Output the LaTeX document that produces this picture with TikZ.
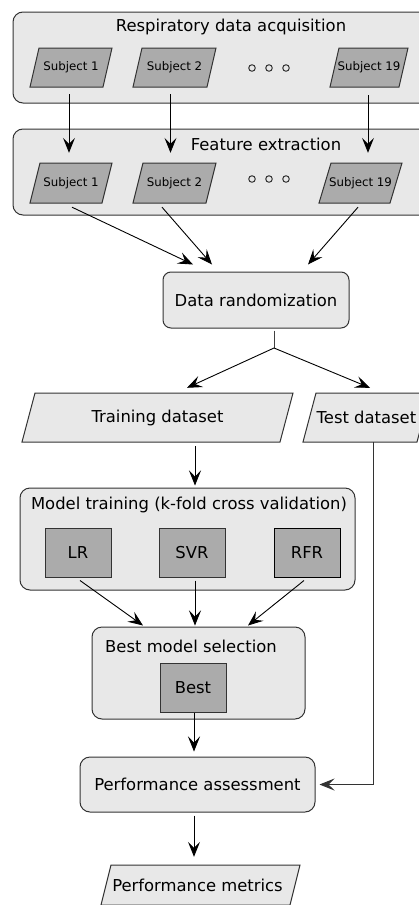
\documentclass[tikz,border=0pt]{standalone}
\usepackage{fontspec}
\setmainfont{DejaVu Sans}
\usetikzlibrary{arrows.meta,calc}
\definecolor{lightfill}{HTML}{E8E8E8}
\definecolor{darkfill}{HTML}{ABABAB}
\definecolor{edgecol}{HTML}{333333}
\newcommand{\paranode}[8]{%
  \draw[#7] ({#2-#4/2},{#3+#5/2}) -- ({#2+#4/2-#6},{#3+#5/2}) -- ({#2+#4/2},{#3-#5/2}) -- ({#2-#4/2+#6},{#3-#5/2}) -- cycle;
  \node[inner sep=0pt, minimum width={#4-#6}, minimum height=#5] (#1) at (#2,#3) {#8};}
\begin{document}
\begin{tikzpicture}[x=1pt,y=-1pt,
  every node/.style={font=\fontsize{16.4}{19}\selectfont, text=black},
  container/.style={draw=edgecol, fill=lightfill, line width=1pt, rounded corners=10pt, inner sep=0pt},
  lightpara/.style={draw=edgecol, fill=lightfill, line width=1pt},
  darkpara/.style={draw=edgecol, fill=darkfill, line width=1pt},
  darkbox/.style={draw=edgecol, fill=darkfill, line width=1pt, inner sep=0pt, minimum width=66pt, minimum height=49pt},
  title/.style={inner sep=0pt},
  arr/.style={line width=0.9pt, -{Stealth[length=15pt,width=12pt,inset=6pt]}},
  plain/.style={line width=0.9pt, draw=black!75},
  dot/.style={draw=edgecol, line width=1pt, fill=lightfill, circle, inner sep=0pt, minimum size=6.5pt}]
\useasboundingbox (0,0) rectangle (419,905);
\clip (0,0) rectangle (419,905);
\fill[white] (0,0) rectangle (419,905);

% Respiratory data acquisition
\node[container, minimum width=437pt, minimum height=91pt] (acq) at (231.5,57.5) {};
\node[title] (acqt) at (231,27) {Respiratory data acquisition};
\paranode{a1}{71}{67.5}{82}{39}{9}{darkpara}{\fontsize{11.8}{14}\selectfont Subject 1}
\paranode{a2}{174.5}{67.5}{83}{39}{9}{darkpara}{\fontsize{11.8}{14}\selectfont Subject 2}
\paranode{a19}{369}{67.5}{78}{39}{9}{darkpara}{\fontsize{11.8}{14}\selectfont Subject 19}
\node[dot] (ad1) at (252,68) {};
\node[dot] (ad2) at (269,68) {};
\node[dot] (ad3) at (286,68) {};

% Feature extraction
\node[container, minimum width=437pt, minimum height=86pt] (fe) at (231.5,172) {};
\node[title] (fet) at (266,144) {Feature extraction};
\paranode{b1}{71}{183}{82}{40}{10}{darkpara}{\fontsize{11.8}{14}\selectfont Subject 1}
\paranode{b2}{174.5}{183}{83}{40}{10}{darkpara}{\fontsize{11.8}{14}\selectfont Subject 2}
\paranode{b19}{360.5}{183}{83}{40}{12}{darkpara}{\fontsize{11.8}{14}\selectfont Subject 19}
\node[dot] (bd1) at (252,179) {};
\node[dot] (bd2) at (269,179) {};
\node[dot] (bd3) at (286,179) {};

\draw[arr] ($(a1.south)+(-2,7)$) -- ($(b1.north)+(-2,-10)$);
\draw[arr] ($(a2.south)+(-4,7)$) -- ($(b2.north)+(-4,-10)$);
\draw[arr] ($(a19.south)+(-1,8)$) -- ($(b19.north)+(7.5,-10)$);

% Data randomization
\node[container, rounded corners=8pt, minimum width=186pt, minimum height=56pt] (dr) at (256,300) {Data randomization};
\draw[arr] ($(b1.south)+(1,4)$) -- ($(dr.north)+(-63,-7)$);
\draw[arr] ($(b2.south)+(-12.5,4)$) -- ($(dr.north)+(-44,-7)$);
\draw[arr] ($(b19.south)+(-2.5,4)$) -- ($(dr.north)+(52,-7)$);

\coordinate (split) at (274,348);
\draw[plain] ($(dr.south)+(18,2)$) -- (split);

% datasets
\paranode{train}{157.5}{417.5}{271}{49}{13}{lightpara}{Training dataset}
\paranode{test}{366.5}{417.5}{127}{49}{13}{lightpara}{Test dataset}
\draw[arr] (split) -- ($(train.north)+(29.5,-5)$);
\draw[arr] (split) -- ($(test.north)+(3.5,-5)$);

% Model training
\node[container, minimum width=335pt, minimum height=102pt] (mt) at (187.5,539) {};
\node[title] (mtt) at (189,505) {Model training (k-fold cross validation)};
\node[darkbox] (lr) at (78,552.5) {LR};
\node[darkbox] (svr) at (192,552.5) {SVR};
\node[darkbox, draw=black] (rfr) at (307,552.5) {RFR};
\draw[arr] ($(train.south)+(37.5,4)$) -- ($(mt.north)+(7.5,-2)$);

% Best model selection
\node[container, minimum width=213pt, minimum height=92pt] (bm) at (198.5,673) {};
\node[title] (bmt) at (191,646) {Best model selection};
\node[darkbox] (best) at (193,687.5) {Best};
\draw[arr] ($(lr.south)+(2,3)$) -- ($(bm.north)+(-55.5,-1)$);
\draw[arr] ($(svr.south)+(3,3)$) -- ($(bm.north)+(-3.5,-1)$);
\draw[arr] ($(rfr.south)+(-3,3)$) -- ($(bm.north)+(49.5,-1)$);

% Performance assessment
\node[container, minimum width=235pt, minimum height=55pt] (pa) at (197.5,784.5) {Performance assessment};
\draw[arr] ($(best.south)+(1,0)$) -- ($(pa.north)+(-3.5,-5)$);
\draw[arr, draw=black!80] ($(test.south)+(6.5,0)$) |- ($(pa.east)+(4,0)$);

% Performance metrics
\paranode{pm}{200.5}{885}{199}{40}{10}{lightpara}{\hspace*{-6pt}Performance metrics}
\draw[arr] ($(pa.south)+(-3.5,3)$) -- ($(pm.north)+(-6.5,-8)$);
\end{tikzpicture}
\end{document}
